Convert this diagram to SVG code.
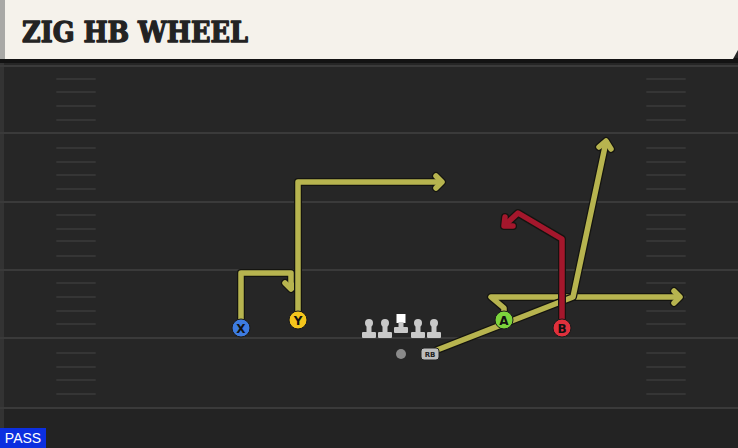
<svg xmlns="http://www.w3.org/2000/svg" width="738" height="448" viewBox="0 0 738 448">
<defs>
<style>
.yl{stroke:#3a3a3a;stroke-width:2}
.hm{stroke:#353535;stroke-width:2;stroke-linecap:round}
.out{fill:none;stroke:#141410;stroke-width:8;stroke-linejoin:round;stroke-linecap:round}
.ry{fill:none;stroke:#b7b44f;stroke-width:5.5;stroke-linejoin:round;stroke-linecap:round}
.rr{fill:none;stroke:#a4172c;stroke-width:5.5;stroke-linejoin:round;stroke-linecap:round}
.lbl{font-family:"DejaVu Sans","Liberation Sans",sans-serif;font-size:12px;font-weight:bold;fill:#111;text-anchor:middle}
.ol{fill:#c9c9c9}
</style>
</defs>
<rect width="738" height="448" fill="#262626"/>
<rect x="0" y="408" width="738" height="40" fill="#232323"/>
<rect x="0" y="60" width="4" height="388" fill="#333"/>
<g id="field">
<line class="yl" x1="0" y1="66" x2="738" y2="66"/>
<line class="yl" x1="0" y1="133" x2="738" y2="133"/>
<line class="yl" x1="0" y1="202" x2="738" y2="202"/>
<line class="yl" x1="0" y1="270" x2="738" y2="270"/>
<line class="yl" x1="0" y1="338" x2="738" y2="338"/>
<line class="yl" x1="0" y1="408" x2="738" y2="408"/>
<g id="hash-left">
<line class="hm" x1="57" y1="79" x2="95" y2="79"/><line class="hm" x1="57" y1="92" x2="95" y2="92"/><line class="hm" x1="57" y1="106" x2="95" y2="106"/><line class="hm" x1="57" y1="120" x2="95" y2="120"/>
<line class="hm" x1="57" y1="148" x2="95" y2="148"/><line class="hm" x1="57" y1="162" x2="95" y2="162"/><line class="hm" x1="57" y1="175" x2="95" y2="175"/><line class="hm" x1="57" y1="189" x2="95" y2="189"/>
<line class="hm" x1="57" y1="215" x2="95" y2="215"/><line class="hm" x1="57" y1="229" x2="95" y2="229"/><line class="hm" x1="57" y1="241" x2="95" y2="241"/><line class="hm" x1="57" y1="256" x2="95" y2="256"/>
<line class="hm" x1="57" y1="283" x2="95" y2="283"/><line class="hm" x1="57" y1="297" x2="95" y2="297"/><line class="hm" x1="57" y1="311" x2="95" y2="311"/><line class="hm" x1="57" y1="324" x2="95" y2="324"/>
<line class="hm" x1="57" y1="353" x2="95" y2="353"/><line class="hm" x1="57" y1="367" x2="95" y2="367"/><line class="hm" x1="57" y1="380" x2="95" y2="380"/><line class="hm" x1="57" y1="394" x2="95" y2="394"/>
</g>
<g id="hash-right">
<line class="hm" x1="647" y1="79" x2="685" y2="79"/><line class="hm" x1="647" y1="92" x2="685" y2="92"/><line class="hm" x1="647" y1="106" x2="685" y2="106"/><line class="hm" x1="647" y1="120" x2="685" y2="120"/>
<line class="hm" x1="647" y1="148" x2="685" y2="148"/><line class="hm" x1="647" y1="162" x2="685" y2="162"/><line class="hm" x1="647" y1="175" x2="685" y2="175"/><line class="hm" x1="647" y1="189" x2="685" y2="189"/>
<line class="hm" x1="647" y1="215" x2="685" y2="215"/><line class="hm" x1="647" y1="229" x2="685" y2="229"/><line class="hm" x1="647" y1="241" x2="685" y2="241"/><line class="hm" x1="647" y1="256" x2="685" y2="256"/>
<line class="hm" x1="647" y1="283" x2="685" y2="283"/><line class="hm" x1="647" y1="297" x2="685" y2="297"/><line class="hm" x1="647" y1="311" x2="685" y2="311"/><line class="hm" x1="647" y1="324" x2="685" y2="324"/>
<line class="hm" x1="647" y1="353" x2="685" y2="353"/><line class="hm" x1="647" y1="367" x2="685" y2="367"/><line class="hm" x1="647" y1="380" x2="685" y2="380"/><line class="hm" x1="647" y1="394" x2="685" y2="394"/>
</g>
</g>
<g id="header">
<rect x="0" y="58" width="738" height="5" fill="#131313"/>
<polygon points="0,0 738,0 738,50 733,59 0,59" fill="#f5f2eb"/>
<rect x="0" y="0" width="5" height="59" fill="#a9a9a6"/>
<text x="22" y="42" font-family="'DejaVu Serif','Liberation Serif',serif" font-weight="900" font-size="27" fill="#232323" stroke="#232323" stroke-width="1.3" stroke-linejoin="round" textLength="226" lengthAdjust="spacingAndGlyphs">ZIG HB WHEEL</text>
</g>
<g id="connectors">
<g id="route-x">
<polyline class="out" points="241,322 241,273 291,273 291,287"/>
<polyline class="out" points="285,283 291,289 297,283"/>
<polyline class="ry" points="241,322 241,273 291,273 291,287"/>
<polyline class="ry" points="285,283 291,289 297,283"/>
</g>
<g id="route-y">
<polyline class="out" points="298,314 298,182 441,182"/>
<polyline class="out" points="436,176 442,182 436,188"/>
<polyline class="ry" points="298,314 298,182 441,182"/>
<polyline class="ry" points="436,176 442,182 436,188"/>
</g>
<g id="route-a">
<polyline class="out" points="504,314 504,308 491,297 679,297"/>
<polyline class="out" points="674,291 680,297 674,303"/>
<polyline class="ry" points="504,314 504,308 491,297 679,297"/>
<polyline class="ry" points="674,291 680,297 674,303"/>
</g>
<g id="route-rb">
<polyline class="out" points="437,350 573,297 606,142"/>
<polyline class="out" points="599,147 606,141 611,149"/>
<polyline class="ry" points="437,350 573,297 606,142"/>
<polyline class="ry" points="599,147 606,141 611,149"/>
</g>
<g id="route-b">
<polyline class="out" points="562,322 562,239 518,213 505,225"/>
<polyline class="out" points="505,217 504,226 513,226"/>
<polyline class="rr" points="562,322 562,239 518,213 505,225"/>
<polyline class="rr" points="505,217 504,226 513,226"/>
</g>
</g>
<g id="line">
<g id="lt"><circle class="ol" cx="369" cy="323" r="4"/><rect class="ol" x="366.5" y="323" width="5" height="11"/><rect class="ol" x="362" y="332" width="14" height="6" rx="1"/></g>
<g id="lg"><circle class="ol" cx="385" cy="323" r="4"/><rect class="ol" x="382.5" y="323" width="5" height="11"/><rect class="ol" x="378" y="332" width="14" height="6" rx="1"/></g>
<g id="c"><rect x="396.5" y="314" width="9" height="9" fill="#fff"/><rect class="ol" x="398.5" y="322" width="5" height="7"/><rect class="ol" x="394" y="327" width="14" height="6" rx="1"/></g>
<g id="rg"><circle class="ol" cx="418" cy="323" r="4"/><rect class="ol" x="415.5" y="323" width="5" height="11"/><rect class="ol" x="411" y="332" width="14" height="6" rx="1"/></g>
<g id="rt"><circle class="ol" cx="434" cy="323" r="4"/><rect class="ol" x="431.5" y="323" width="5" height="11"/><rect class="ol" x="427" y="332" width="14" height="6" rx="1"/></g>
</g>
<g id="qb"><circle cx="401" cy="354" r="5" fill="#8a8a8a"/></g>
<g id="rb"><rect x="421" y="348" width="18" height="12" rx="3" fill="#bdbdbd" stroke="#222" stroke-width="1"/><text x="430" y="357" font-family="'DejaVu Sans','Liberation Sans',sans-serif" font-size="7" font-weight="bold" fill="#222" text-anchor="middle">RB</text></g>
<g id="x"><circle cx="241" cy="328" r="9" fill="#3d7be0" stroke="#1a1a1a" stroke-width="1"/><text class="lbl" x="241" y="332.5">X</text></g>
<g id="y"><circle cx="298" cy="320" r="9" fill="#f4c51c" stroke="#1a1a1a" stroke-width="1"/><text class="lbl" x="298" y="324.5">Y</text></g>
<g id="a"><circle cx="504" cy="320" r="9" fill="#7cd43c" stroke="#1a1a1a" stroke-width="1"/><text class="lbl" x="504" y="324.5">A</text></g>
<g id="b"><circle cx="562" cy="328" r="9" fill="#e0303c" stroke="#1a1a1a" stroke-width="1"/><text class="lbl" x="562" y="332.5">B</text></g>
<g id="pass"><rect x="0" y="428" width="46" height="20" fill="#0c2fe0"/><text x="23" y="443" font-family="'Liberation Sans',Arial,sans-serif" font-size="14" fill="#fff" text-anchor="middle">PASS</text></g>
</svg>
